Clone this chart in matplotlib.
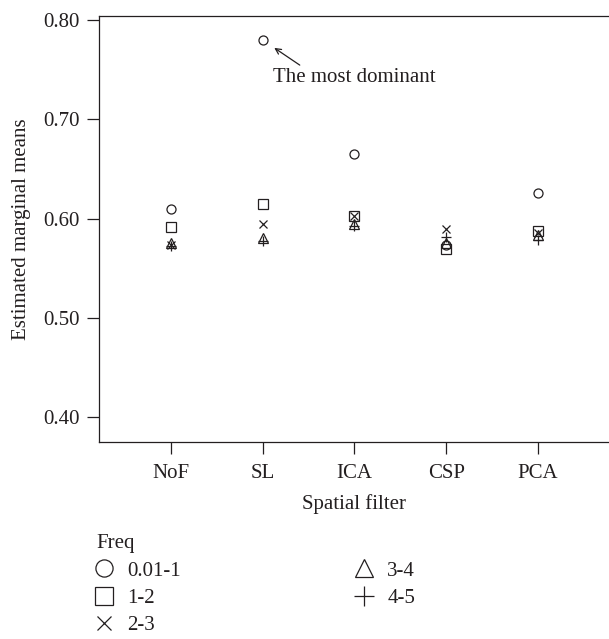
import matplotlib
matplotlib.use('Agg')
import matplotlib.pyplot as plt
from matplotlib.lines import Line2D

plt.rcParams['font.family'] = ['Liberation Serif', 'DejaVu Serif']

filters = ['NoF', 'SL', 'ICA', 'CSP', 'PCA']
freq_labels = ['0.01-1', '1-2', '2-3', '3-4', '4-5']

# estimated marginal means per frequency band, one value per spatial filter
f_001_1 = [0.610, 0.780, 0.665, 0.573, 0.626]
f_1_2 = [0.592, 0.615, 0.603, 0.569, 0.588]
f_2_3 = [0.573, 0.595, 0.603, 0.590, 0.586]
f_3_4 = [0.575, 0.580, 0.595, 0.575, 0.583]
f_4_5 = [0.572, 0.577, 0.593, 0.581, 0.578]

series = [f_001_1, f_1_2, f_2_3, f_3_4, f_4_5]
markers = ['o', 's', 'x', '^', '+']
msizes = [6.5, 6.5, 5.5, 6.5, 7.5]

ink = '#231f20'
W, H = 609, 639
fig = plt.figure(figsize=(W / 100, H / 100), dpi=100)
ax = fig.add_axes([99 / W, 1 - 442 / H, 511 / W, 426 / H])

x = list(range(len(filters)))
for vals, m, ms in zip(series, markers, msizes):
    ax.plot(x, vals, linestyle='none', marker=m, markersize=ms,
            markerfacecolor='none', markeredgecolor=ink, markeredgewidth=0.9)

ax.set_xlim(-0.785, 4.785)
ax.set_ylim(0.3748, 0.8043)
ax.set_xticks(x)
ax.set_xticklabels(filters)
ax.set_yticks([0.40, 0.50, 0.60, 0.70, 0.80])
ax.set_yticklabels(['%.2f' % v for v in [0.40, 0.50, 0.60, 0.70, 0.80]])

for s in ['left', 'top', 'bottom', 'right']:
    ax.spines[s].set_color(ink)
    ax.spines[s].set_linewidth(0.9)
ax.tick_params(axis='both', direction='out', length=8.5, width=0.9,
               color=ink, labelcolor=ink, labelsize=15)
ax.tick_params(axis='y', pad=5.5)
ax.tick_params(axis='x', pad=7)

ax.set_xlabel('Spatial filter', fontsize=15, color=ink)
ax.set_ylabel('Estimated marginal means', fontsize=15, color=ink)
ax.xaxis.set_label_coords(0.5, -0.122)
ax.yaxis.set_label_coords(-0.134, 0.5)

# arrow pointing at the SL 0.01-1 point
ax.annotate('', xy=(1, f_001_1[1]), xytext=(37, -25), textcoords='offset pixels',
            arrowprops=dict(arrowstyle='->', color=ink, lw=0.9,
                            shrinkA=0, shrinkB=10))
ax.annotate('The most dominant', xy=(1, f_001_1[1]), xytext=(10, -28),
            textcoords='offset pixels', ha='left', va='top',
            fontsize=15, color=ink)

handles = [Line2D([], [], linestyle='none', marker=m, markersize=ms,
                  markerfacecolor='none', markeredgecolor=ink,
                  markeredgewidth=0.9)
           for m, ms in zip(markers, msizes)]
leg = fig.legend(handles, freq_labels, title='Freq', loc='upper left',
                 bbox_to_anchor=(96 / W, 1 - 534 / H), ncol=2, frameon=False,
                 fontsize=15, title_fontsize=15, alignment='left',
                 markerscale=1.9, borderpad=0, borderaxespad=0,
                 handlelength=0.8, handletextpad=0.7, columnspacing=8.4,
                 labelspacing=0.38)
for t in leg.get_texts():
    t.set_color(ink)
leg.get_title().set_color(ink)

fig.savefig('out.png', dpi=100)
